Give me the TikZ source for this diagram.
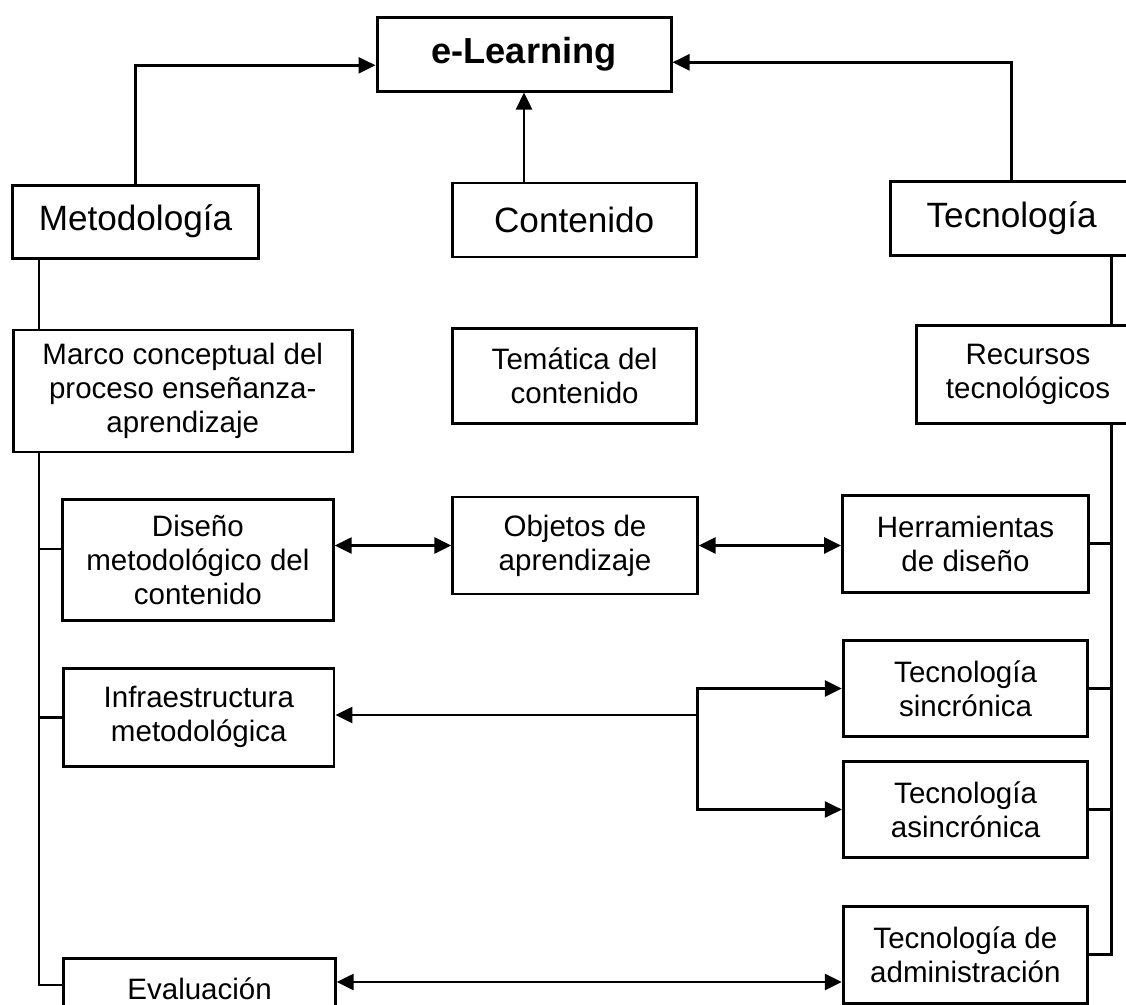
\documentclass[tikz,border=0pt]{standalone}
\usepackage{fontspec}
\setmainfont{Liberation Sans}
\usepackage{tikz}
\usetikzlibrary{arrows.meta, calc}

\begin{document}
\begin{tikzpicture}[
    box/.style={rectangle, draw, line width=0.85pt, align=center, inner sep=0pt},
    bigbox/.style={box, font=\fontsize{10}{12}\selectfont},
    smallbox/.style={box, font=\fontsize{8.4}{9.7}\selectfont},
    link/.style={-, line width=0.75pt},
    arrow/.style={-{Triangle[length=1.7mm, width=1.6mm]}, line width=0.75pt},
    darrow/.style={{Triangle[length=1.7mm, width=1.6mm]}-{Triangle[length=1.7mm, width=1.6mm]}, line width=0.75pt}
]
    \useasboundingbox (0,0) rectangle (11.26,-10.05);
    \clip (0,0) rectangle (11.26,-10.05);

    % Top
    \node[bigbox, font=\fontsize{10.3}{12}\selectfont\bfseries, minimum width=2.94cm, minimum height=0.735cm] (elearn) at (5.24,-0.543) {e-Learning};

    % Three pillars
    \node[bigbox, minimum width=2.456cm, minimum height=0.73cm] (metod) at (1.355,-2.217) {Metodología};
    \node[bigbox, minimum width=2.444cm, minimum height=0.74cm] (cont) at (5.742,-2.20) {Contenido};
    \node[bigbox, minimum width=2.43cm, minimum height=0.735cm] (tecno) at (10.116,-2.183) {Tecnología};

    % Second row
    \node[smallbox, minimum width=3.39cm, minimum height=1.22cm] (marco) at (1.828,-3.91) {Marco conceptual del\\proceso enseñanza-\\aprendizaje};
    \node[smallbox, minimum width=2.435cm, minimum height=0.95cm] (tematica) at (5.746,-3.757) {Temática del\\contenido};
    \node[smallbox, minimum width=2.24cm, minimum height=0.98cm] (recursos) at (10.28,-3.742) {Recursos\\tecnológicos};

    % Left column
    \node[smallbox, minimum width=2.707cm, minimum height=1.214cm] (diseno) at (1.979,-5.60) {Diseño\\metodológico del\\contenido};
    \node[smallbox, minimum width=2.704cm, minimum height=0.977cm] (infra) at (1.988,-7.172) {Infraestructura\\metodológica};
    \node[smallbox, minimum width=2.713cm, minimum height=0.6cm] (evalua) at (1.996,-9.883) {Evaluación};

    % Middle
    \node[smallbox, minimum width=2.443cm, minimum height=0.97cm] (objetos) at (5.75,-5.455) {Objetos de\\aprendizaje};

    % Right column
    \node[smallbox, minimum width=2.46cm, minimum height=0.973cm] (herram) at (9.655,-5.437) {Herramientas\\de diseño};
    \node[smallbox, minimum width=2.447cm, minimum height=0.96cm] (sincro) at (9.656,-6.885) {Tecnología\\sincrónica};
    \node[smallbox, minimum width=2.444cm, minimum height=0.965cm] (asincro) at (9.656,-8.095) {Tecnología\\asincrónica};
    \node[smallbox, minimum width=2.442cm, minimum height=0.97cm] (admin) at (9.654,-9.548) {Tecnología de\\administración};

    % Bus lines and junctions
    \coordinate (lb) at (0.39,0);
    \coordinate (rb) at (11.115,0);
    \coordinate (junc) at (6.975,-7.15);
    \coordinate (evlink) at (0,-9.82);
    \coordinate (evbranch) at (0,-9.85);

    % Arrows to e-Learning
    \draw[arrow] (metod.north) |- ([yshift=-0.11cm]elearn.west);
    \draw[arrow] (cont.north -| elearn.south) -- (elearn.south);
    \draw[arrow] (tecno.north) |- ([yshift=-0.08cm]elearn.east);

    % Left bus
    \draw[link] (metod.south -| lb) -- (marco.north -| lb);
    \draw[link] (marco.south -| lb) -- (evbranch -| lb) -- (evbranch -| evalua.west);
    \draw[link] ([yshift=0.11cm]diseno.west) -- ([yshift=0.11cm]diseno.west -| lb);
    \draw[link] (infra.west) -- (infra.west -| lb);

    % Right bus
    \draw[link] (tecno.south -| rb) -- (recursos.north -| rb);
    \draw[link] (recursos.south -| rb) -- (admin.east -| rb) -- (admin.east);
    \draw[link] (herram.east) -- (herram.east -| rb);
    \draw[link] (sincro.east) -- (sincro.east -| rb);
    \draw[link] (asincro.east) -- (asincro.east -| rb);

    % Two-way links
    \draw[darrow] (objetos.west -| diseno.east) -- (objetos.west);
    \draw[darrow] (objetos.east) -- (objetos.east -| herram.west);
    \draw[darrow] (evalua.east |- evlink) -- (admin.west |- evlink);

    % Infraestructura to synchronous / asynchronous
    \draw[arrow] (junc) -- (junc -| infra.east);
    \draw[arrow] (junc) |- (sincro.west);
    \draw[arrow] (junc) |- (asincro.west);

\end{tikzpicture}
\end{document}
